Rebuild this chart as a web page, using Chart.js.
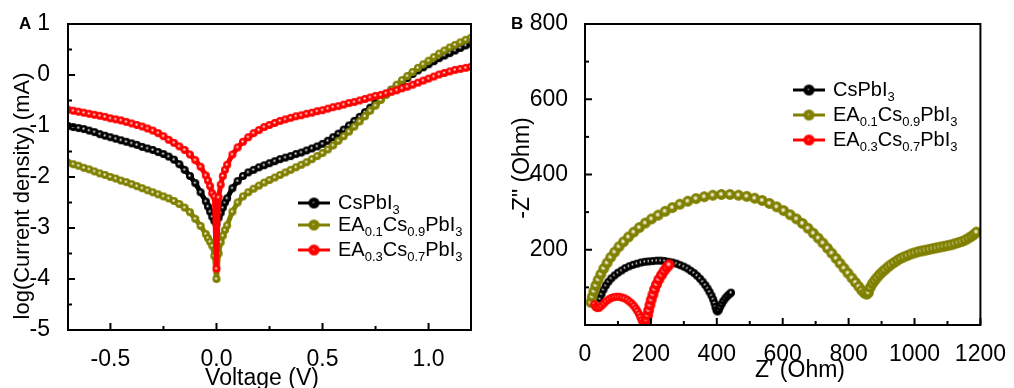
<!DOCTYPE html>
<html>
<head>
<meta charset="utf-8">
<script src="https://cdn.jsdelivr.net/npm/chart.js@4.4.0/dist/chart.umd.min.js"></script>
<style>
  html, body { margin: 0; padding: 0; background: #fff; }
  #wrap { position: relative; width: 1014px; height: 388px; overflow: hidden; }
  canvas { position: absolute; top: 0; }
  #chartA { left: 0; }
  #chartB { left: 500px; }
</style>
</head>
<body>
<div id="wrap">
  <canvas id="chartA" width="500" height="388"></canvas>
  <canvas id="chartB" width="514" height="388"></canvas>
</div>
<script>
const seriesLabels = ['CsPbI3', 'EA0.1Cs0.9PbI3', 'EA0.3Cs0.7PbI3'];

// panel A: log(current density) vs voltage
const voltage = [-0.7, -0.675, -0.65, -0.625, -0.6, -0.575, -0.55, -0.525, -0.5, -0.475, -0.45, -0.425, -0.4, -0.375, -0.35, -0.325, -0.3, -0.275, -0.25, -0.225, -0.2, -0.175, -0.15, -0.125, -0.1, -0.075, -0.05, -0.04, -0.03, -0.02, -0.01, 0, 0.01, 0.02, 0.03, 0.04, 0.05, 0.075, 0.1, 0.125, 0.15, 0.175, 0.2, 0.225, 0.25, 0.275, 0.3, 0.325, 0.35, 0.375, 0.4, 0.425, 0.45, 0.475, 0.5, 0.525, 0.55, 0.575, 0.6, 0.625, 0.65, 0.675, 0.7, 0.725, 0.75, 0.775, 0.8, 0.825, 0.85, 0.875, 0.9, 0.925, 0.95, 0.975, 1.0, 1.025, 1.05, 1.075, 1.1, 1.125, 1.15, 1.175, 1.2];
const logJCs = [-1.00, -1.02, -1.04, -1.06, -1.09, -1.12, -1.16, -1.19, -1.22, -1.25, -1.28, -1.31, -1.34, -1.37, -1.41, -1.44, -1.47, -1.51, -1.55, -1.60, -1.66, -1.75, -1.86, -1.98, -2.12, -2.30, -2.48, -2.58, -2.68, -2.78, -2.86, -2.92, -2.80, -2.70, -2.60, -2.50, -2.42, -2.22, -2.08, -1.98, -1.91, -1.86, -1.81, -1.77, -1.73, -1.69, -1.65, -1.62, -1.59, -1.55, -1.52, -1.48, -1.44, -1.40, -1.35, -1.29, -1.22, -1.15, -1.07, -0.99, -0.90, -0.82, -0.73, -0.64, -0.55, -0.46, -0.37, -0.29, -0.21, -0.13, -0.06, 0.02, 0.09, 0.15, 0.21, 0.27, 0.33, 0.38, 0.43, 0.48, 0.53, 0.58, 0.62];
const logJEA01 = [-1.72, -1.75, -1.78, -1.82, -1.85, -1.89, -1.93, -1.96, -2.00, -2.03, -2.07, -2.10, -2.14, -2.18, -2.22, -2.26, -2.30, -2.34, -2.38, -2.42, -2.47, -2.53, -2.60, -2.69, -2.82, -2.96, -3.12, -3.20, -3.27, -3.35, -3.55, -4.00, -3.50, -3.28, -3.15, -3.04, -2.95, -2.68, -2.50, -2.38, -2.30, -2.23, -2.17, -2.11, -2.06, -2.01, -1.96, -1.91, -1.86, -1.81, -1.76, -1.71, -1.65, -1.59, -1.53, -1.46, -1.38, -1.29, -1.20, -1.11, -1.01, -0.91, -0.81, -0.70, -0.60, -0.49, -0.39, -0.29, -0.19, -0.10, -0.02, 0.06, 0.14, 0.21, 0.28, 0.35, 0.42, 0.48, 0.54, 0.59, 0.64, 0.69, 0.73];
const logJEA03 = [-0.68, -0.70, -0.72, -0.74, -0.76, -0.78, -0.80, -0.82, -0.85, -0.87, -0.89, -0.92, -0.95, -0.98, -1.01, -1.05, -1.09, -1.14, -1.20, -1.27, -1.33, -1.40, -1.47, -1.56, -1.67, -1.80, -1.97, -2.07, -2.18, -2.32, -2.38, -3.80, -2.40, -2.15, -1.98, -1.86, -1.76, -1.56, -1.42, -1.31, -1.22, -1.14, -1.08, -1.02, -0.98, -0.94, -0.90, -0.87, -0.84, -0.81, -0.79, -0.76, -0.74, -0.71, -0.69, -0.66, -0.63, -0.61, -0.58, -0.55, -0.53, -0.50, -0.47, -0.44, -0.41, -0.39, -0.36, -0.33, -0.30, -0.26, -0.23, -0.19, -0.15, -0.11, -0.07, -0.03, 0.01, 0.04, 0.07, 0.10, 0.12, 0.14, 0.16];

// panel B: Nyquist plots
const zReCs = [45, 50, 56, 63, 71, 80, 90, 100, 111, 122, 134, 146, 158, 170, 182, 194, 206, 218, 230, 242, 254, 266, 278, 289, 300, 311, 321, 331, 340, 349, 357, 365, 372, 378, 384, 389, 393, 396, 399, 402, 406, 410, 415, 420, 426, 432, 438, 443];
const zImCs = [70, 82, 94, 105, 115, 124, 132, 139, 145, 151, 156, 160, 163, 166, 168, 169, 170, 171, 171, 170, 168, 166, 163, 159, 155, 150, 144, 138, 131, 123, 115, 106, 97, 88, 78, 68, 58, 48, 40, 36, 40, 48, 56, 64, 71, 77, 82, 86];
const zReEA01 = [18, 22, 27, 33, 40, 48, 57, 67, 78, 90, 103, 117, 132, 148, 165, 183, 202, 222, 243, 265, 288, 312, 337, 362, 388, 414, 440, 466, 491, 515, 538, 560, 582, 603, 623, 642, 660, 677, 693, 708, 722, 736, 749, 762, 774, 786, 798, 810, 821, 831, 840, 848, 855, 860, 866, 872, 879, 886, 894, 902, 910, 919, 928, 938, 948, 958, 968, 979, 990, 1001, 1012, 1023, 1034, 1045, 1056, 1067, 1078, 1089, 1100, 1111, 1122, 1133, 1144, 1154, 1164, 1173, 1181, 1188];
const zImEA01 = [60, 75, 90, 105, 120, 135, 150, 165, 180, 194, 208, 221, 234, 247, 259, 271, 282, 292, 302, 312, 321, 329, 336, 341, 345, 347, 347, 345, 342, 337, 331, 323, 314, 304, 293, 282, 270, 257, 244, 231, 218, 204, 191, 177, 164, 151, 138, 125, 113, 102, 92, 85, 82, 86, 100, 110, 118, 126, 134, 141, 147, 154, 160, 166, 172, 177, 181, 185, 189, 192, 195, 197, 199, 201, 203, 205, 207, 209, 211, 213, 216, 219, 222, 226, 231, 236, 241, 247];
const zReEA03 = [28, 32, 37, 43, 50, 57, 64, 72, 80, 88, 96, 104, 112, 120, 128, 135, 142, 148, 154, 159, 164, 168, 172, 175, 178, 181, 184, 187, 190, 193, 197, 201, 206, 211, 217, 224, 232, 240, 248, 255];
const zImEA03 = [55, 48, 45, 46, 51, 57, 63, 68, 72, 74, 75, 75, 73, 71, 67, 62, 57, 51, 44, 37, 29, 21, 13, 6, 1, 0, 4, 14, 26, 39, 53, 67, 81, 95, 108, 121, 133, 144, 153, 160];

// tick labels
const voltTicks = [-0.5, 0, 0.5, 1.0];
const logTicks = [-5, -4, -3, -2, -1, 0, 1];
const zReTicks = [0, 200, 400, 600, 800, 1000, 1200];
const zImTicks = [200, 400, 600, 800];

const FONT = '"Liberation Sans", Arial, sans-serif';
const colors = ['#000000', '#808000', '#ff0000'];
const lights = ['#a0a0a0', '#e0e0b8', '#ffa8a8'];

function sphere(color, light, r, spot) {
  const s = Math.ceil(r * 2 + 2);
  const c = document.createElement('canvas');
  c.width = s;
  c.height = s;
  const g = c.getContext('2d');
  const m = s / 2;
  g.fillStyle = color;
  g.beginPath();
  g.arc(m, m, r, 0, Math.PI * 2);
  g.fill();
  const hx = m - r * 0.1, hy = m - r * 0.1;
  const grd = g.createRadialGradient(hx, hy, 0, hx, hy, r * spot);
  grd.addColorStop(0, '#ffffff');
  grd.addColorStop(0.4, light);
  grd.addColorStop(1, color);
  g.fillStyle = grd;
  g.beginPath();
  g.arc(hx, hy, r * spot, 0, Math.PI * 2);
  g.fill();
  return c;
}

const smallDots = colors.map((c, i) => sphere(c, lights[i], 4, 0.45));
const bigDots = colors.map((c, i) => sphere(c, lights[i], 5.4, 0.5));
const legendDots = colors.map(c => sphere(c, c, 5.5, 0.5));

const minorsOf = (ticks, min, max) => {
  const step = ticks[1] - ticks[0];
  const out = [];
  for (let v = ticks[0] - step / 2; v <= max + 1e-9; v += step) {
    if (v >= min - 1e-9) out.push(v);
  }
  return out;
};

const drawRich = (ctx, text, x, y) => {
  const parts = text.split(/(\d+(?:\.\d+)?)/);
  parts.forEach((p, i) => {
    if (!p) return;
    const sub = i % 2 === 1;
    ctx.font = (sub ? '13px ' : '20px ') + FONT;
    ctx.fillText(p, x, sub ? y + 5 : y);
    x += ctx.measureText(p).width;
  });
};

const deco = {
  id: 'deco',
  afterDraw(chart, args, o) {
    const { ctx, chartArea: a, scales } = chart;
    ctx.save();
    ctx.strokeStyle = '#000';
    ctx.fillStyle = '#000';
    ctx.lineWidth = 2;
    ctx.strokeRect(a.left, a.top, a.right - a.left, a.bottom - a.top);

    // inward ticks
    const tick = (vals, len, horiz) => {
      vals.forEach(v => {
        ctx.beginPath();
        if (horiz) {
          const px = scales.x.getPixelForValue(v);
          ctx.moveTo(px, a.bottom);
          ctx.lineTo(px, a.bottom - len);
        } else {
          const py = scales.y.getPixelForValue(v);
          ctx.moveTo(a.left, py);
          ctx.lineTo(a.left + len, py);
        }
        ctx.stroke();
      });
    };
    tick(o.xMajor, 7, true);
    tick(minorsOf(o.xMajor, scales.x.min, scales.x.max), 4, true);
    tick(o.yMajor, 7, false);
    tick(minorsOf(o.yMajor, scales.y.min, scales.y.max), 4, false);

    // axis titles
    ctx.font = '23px ' + FONT;
    ctx.textAlign = 'center';
    ctx.textBaseline = 'alphabetic';
    ctx.fillText(o.xTitle.text, o.xTitle.x, o.xTitle.y);
    ctx.save();
    ctx.translate(o.yTitle.x, o.yTitle.y);
    ctx.rotate(-Math.PI / 2);
    ctx.textBaseline = 'middle';
    ctx.font = o.yTitle.size + 'px ' + FONT;
    ctx.fillText(o.yTitle.text, 0, 0);
    ctx.restore();

    // panel letter
    ctx.font = 'bold 17px ' + FONT;
    ctx.textAlign = 'left';
    ctx.fillText(o.panel.text, o.panel.x, o.panel.y);

    // legend
    const L = o.legend;
    seriesLabels.forEach((lab, i) => {
      const y = L.rows[i];
      ctx.strokeStyle = colors[i];
      ctx.lineWidth = 3;
      ctx.beginPath();
      ctx.moveTo(L.x0, y);
      ctx.lineTo(L.x1, y);
      ctx.stroke();
      const d = legendDots[i];
      ctx.drawImage(d, (L.x0 + L.x1) / 2 - d.width / 2, y - d.height / 2);
      ctx.fillStyle = '#000';
      ctx.textBaseline = 'alphabetic';
      drawRich(ctx, lab, L.tx, y + 6);
    });
    ctx.restore();
  }
};

const tickFont = { family: FONT, size: 23 };

const pairs = (xs, ys) => xs.map((x, i) => ({ x, y: ys[i] }));

new Chart(document.getElementById('chartA'), {
  type: 'line',
  data: {
    datasets: [
      { label: seriesLabels[0], data: pairs(voltage, logJCs), borderColor: colors[0], borderWidth: 5, pointStyle: smallDots[0], order: 2 },
      { label: seriesLabels[1], data: pairs(voltage, logJEA01), borderColor: colors[1], borderWidth: 5, pointStyle: smallDots[1], order: 1 },
      { label: seriesLabels[2], data: pairs(voltage, logJEA03), borderColor: colors[2], borderWidth: 5, pointStyle: smallDots[2], order: 0 }
    ]
  },
  options: {
    responsive: false,
    animation: false,
    devicePixelRatio: 1,
    layout: { padding: { top: 24, right: 29, left: 0, bottom: 0 } },
    elements: { line: { tension: 0, borderJoinStyle: 'round', borderCapStyle: 'round' } },
    plugins: {
      legend: { display: false },
      tooltip: { enabled: false },
      deco: {
        xMajor: voltTicks,
        yMajor: logTicks,
        xTitle: { text: 'Voltage (V)', x: 262, y: 385 },
        yTitle: { text: 'log(Current density) (mA)', x: 23, y: 196, size: 22 },
        panel: { text: 'A', x: 19, y: 29 },
        legend: { x0: 298, x1: 330, tx: 338, rows: [203, 225, 250] }
      }
    },
    scales: {
      x: {
        type: 'linear', min: -0.7, max: 1.2,
        grid: { display: false }, border: { display: false },
        afterBuildTicks: s => { s.ticks = voltTicks.map(v => ({ value: v })); },
        afterFit: s => { s.height = 58; },
        ticks: { font: tickFont, color: '#000', padding: 8, maxRotation: 0, callback: v => v.toFixed(1) }
      },
      y: {
        type: 'linear', min: -5, max: 1,
        grid: { display: false }, border: { display: false },
        afterBuildTicks: s => { s.ticks = logTicks.map(v => ({ value: v })); },
        afterFit: s => { s.width = 68; },
        ticks: { font: tickFont, color: '#000', padding: 10, callback: v => String(v) }
      }
    }
  },
  plugins: [deco]
});

new Chart(document.getElementById('chartB'), {
  type: 'line',
  data: {
    datasets: [
      { label: seriesLabels[0], data: pairs(zReCs, zImCs), borderColor: colors[0], borderWidth: 5, pointStyle: smallDots[0], order: 2 },
      { label: seriesLabels[1], data: pairs(zReEA01, zImEA01), borderColor: colors[1], borderWidth: 5, pointStyle: bigDots[1], order: 1 },
      { label: seriesLabels[2], data: pairs(zReEA03, zImEA03), borderColor: colors[2], borderWidth: 5,
        pointStyle: c => (c.raw && c.raw.x > 185) ? bigDots[2] : smallDots[2], order: 0 }
    ]
  },
  options: {
    responsive: false,
    animation: false,
    devicePixelRatio: 1,
    layout: { padding: { top: 24, right: 27, left: 0, bottom: 0 } },
    elements: { line: { tension: 0, borderJoinStyle: 'round', borderCapStyle: 'round' } },
    plugins: {
      legend: { display: false },
      tooltip: { enabled: false },
      deco: {
        xMajor: zReTicks,
        yMajor: [0].concat(zImTicks),
        xTitle: { text: "Z' (Ohm)", x: 300, y: 377 },
        yTitle: { text: '-Z" (Ohm)', x: 23, y: 168, size: 23 },
        panel: { text: 'B', x: 11, y: 29 },
        legend: { x0: 293, x1: 325, tx: 333, rows: [90, 115, 140] }
      }
    },
    scales: {
      x: {
        type: 'linear', min: 0, max: 1200,
        grid: { display: false }, border: { display: false },
        afterBuildTicks: s => { s.ticks = zReTicks.map(v => ({ value: v })); },
        afterFit: s => { s.height = 63; },
        ticks: { font: tickFont, color: '#000', padding: 8, maxRotation: 0, callback: v => String(v) }
      },
      y: {
        type: 'linear', min: 0, max: 800,
        grid: { display: false }, border: { display: false },
        afterBuildTicks: s => { s.ticks = zImTicks.map(v => ({ value: v })); },
        afterFit: s => { s.width = 85; },
        ticks: { font: tickFont, color: '#000', padding: 9, callback: v => String(v) }
      }
    }
  },
  plugins: [deco]
});
</script>
</body>
</html>
